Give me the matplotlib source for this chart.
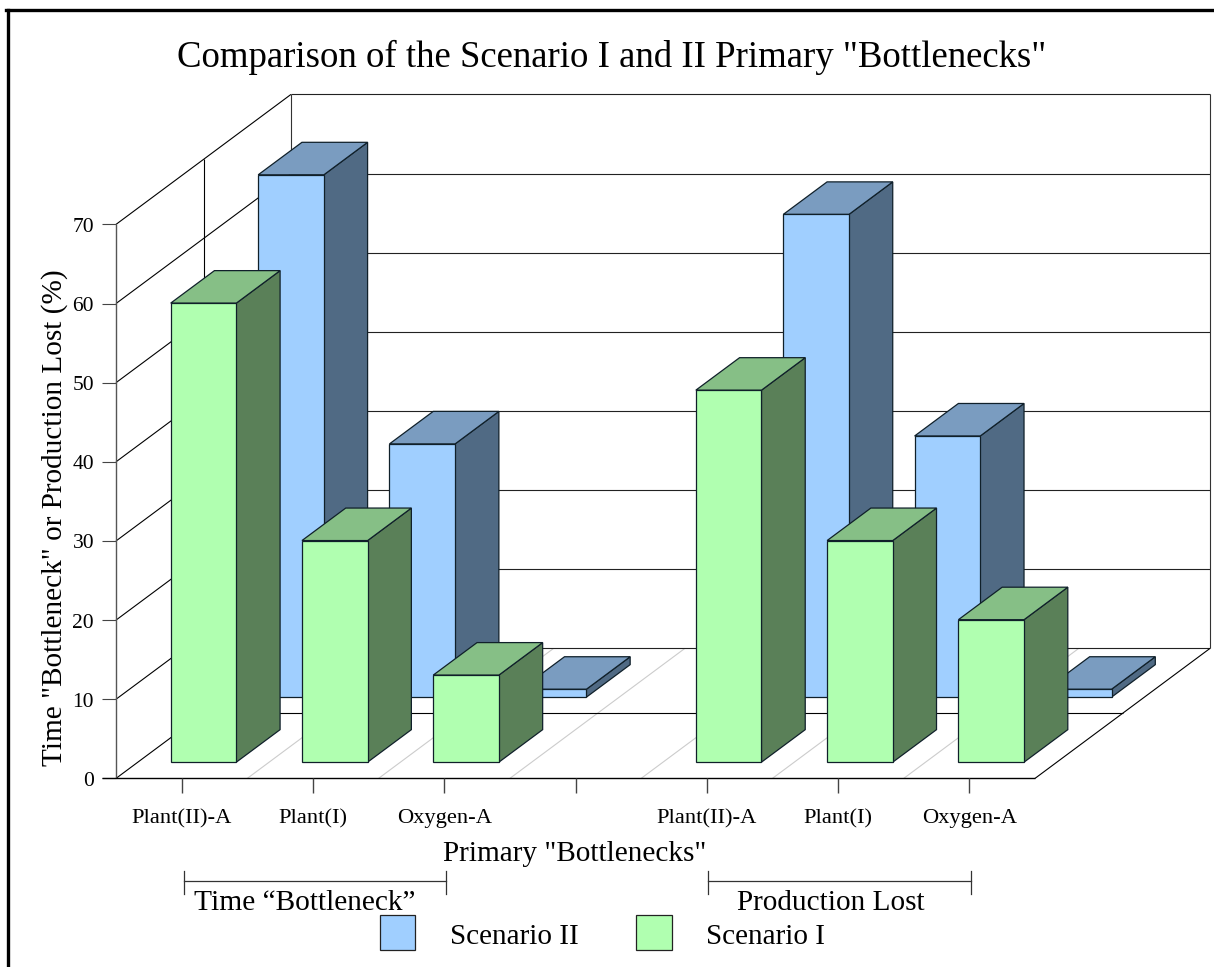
#!/usr/bin/env python3
"""Pseudo-3D bar chart: Scenario I vs II primary bottlenecks."""

import matplotlib
matplotlib.use("Agg")
import matplotlib.pyplot as plt
from matplotlib.patches import Polygon, Rectangle

# ── Data ──────────────────────────────────────────────────────────────────
categories = ["Plant(II)-A", "Plant(I)", "Oxygen-A", "", "Plant(II)-A", "Plant(I)", "Oxygen-A"]
scenario_1 = [58, 28, 11, None, 47, 28, 18]
scenario_2 = [66, 32, 1, None, 61, 33, 1]
y_ticks = [0, 10, 20, 30, 40, 50, 60, 70]

# ── Layout, in pixels of the 1214x967 figure ──────────────────────────────
W, H = 1214, 967
LEFT, BASE = 116, 778.4     # front corner of the floor
CAT_PX = 919 / 7            # width of one category
VAL_PX = 554 / 70           # height of one percent
DEPTH_X, DEPTH_Y = 175 / CAT_PX, 130 / VAL_PX   # floor depth in data units

plt.rcParams["font.family"] = ["Liberation Serif", "DejaVu Serif"]

fig = plt.figure(figsize=(W / 100, H / 100), dpi=100)
ax = fig.add_axes([0, 0, 1, 1])
ax.set_xlim(-LEFT / CAT_PX, (W - LEFT) / CAT_PX)
ax.set_ylim((BASE - H) / VAL_PX, BASE / VAL_PX)
ax.axis("off")


def proj(x, depth, val):
    return x + depth * DEPTH_X, val + depth * DEPTH_Y


def line(p, q, color="black", lw=0.8, z=2):
    ax.plot([p[0], q[0]], [p[1], q[1]], color=color, lw=lw, zorder=z,
            solid_capstyle="butt")


def px_text(x, y, s, size, **kw):
    kw.setdefault("ha", "center")
    kw.setdefault("va", "center")
    fig.text(x / W, 1 - y / H, s, fontsize=size, color="black", **kw)


def px_line(xs, ys, color="#333333", lw=0.9):
    fig.add_artist(plt.Line2D([x / W for x in xs], [1 - y / H for y in ys],
                              color=color, lw=lw))


# ── Walls and floor ───────────────────────────────────────────────────────
n = len(categories)
for i in range(1, n):
    line(proj(i, 0, 0), proj(i, 1, 0), color="#cccccc")
for v in y_ticks:
    line(proj(0, 0, v), proj(0, 1, v))
    line(proj(0, 1, v), proj(n, 1, v), color="#222222")
    line(proj(-14 / CAT_PX, 0, v), proj(0, 0, v), color="#444444")
line(proj(0, 0, 0), proj(0, 0, 70), color="#555555", lw=1.0)
line(proj(0, 1, 0), proj(0, 1, 70), color="#333333")
line(proj(n, 1, 0), proj(n, 1, 70), color="#333333")
line(proj(0, 0.5, 0), proj(0, 0.5, 70))
line(proj(0, 0.5, 0), proj(n, 0.5, 0))
line(proj(-14 / CAT_PX, 0, 0), proj(n, 0, 0), lw=1.0)
line(proj(n, 0, 0), proj(n, 1, 0))

for v in y_ticks:
    ax.text(-22 / CAT_PX, v - 3 / VAL_PX, str(v), fontsize=15.5, ha="right", va="center")
for i, name in enumerate(categories):
    c = i + 0.5
    line((c, 0), (c, -15 / VAL_PX), color="#444444", lw=1.0)
    ax.text(c, -40 / VAL_PX, name, fontsize=16.2, ha="center", va="center")


# ── Bars ──────────────────────────────────────────────────────────────────
def bar(i, d0, d1, val, front, top, side, z):
    x0, x1 = i + 0.25, i + 0.75
    quads = [
        ([(x1, d0, 0), (x1, d1, 0), (x1, d1, val), (x1, d0, val)], side),
        ([(x0, d0, val), (x1, d0, val), (x1, d1, val), (x0, d1, val)], top),
        ([(x0, d0, 0), (x1, d0, 0), (x1, d0, val), (x0, d0, val)], front),
    ]
    for corners, color in quads:
        ax.add_patch(Polygon([proj(*c) for c in corners], closed=True, facecolor=color,
                             edgecolor="#10202a", lw=0.9, zorder=z, joinstyle="miter"))


BLUE = ("#a0cfff", "#7a9cc0", "#506a84")
GREEN = ("#b0ffb0", "#86bf86", "#5a8058")
for i, val in enumerate(scenario_2):
    if val is not None:
        bar(i, 0.625, 0.875, val, *BLUE, z=3)
for i, val in enumerate(scenario_1):
    if val is not None:
        bar(i, 0.125, 0.375, val, *GREEN, z=4)

# ── Frame, titles ─────────────────────────────────────────────────────────
px_line([7.5, 7.5], [H, 9.5], color="black", lw=2.4)
px_line([6, W], [9.5, 9.5], color="black", lw=2.4)

px_text(612, 57, 'Comparison of the Scenario I and II Primary "Bottlenecks"', 26.5)
px_text(55, 518, 'Time "Bottleneck" or Production Lost (%)', 21.1, rotation=90)
px_text(575, 854, 'Primary "Bottlenecks"', 21.1)

# ── Group brackets ────────────────────────────────────────────────────────
for x0, x1 in [(184, 446), (708, 970.5)]:
    px_line([x0, x1], [881, 881])
    px_line([x0, x0], [871, 894])
    px_line([x1, x1], [871, 894])
px_text(304.5, 903, "Time “Bottleneck”", 21.2)
px_text(831, 903, "Production Lost", 21.1)

# ── Legend ────────────────────────────────────────────────────────────────
for x, label, text_x, color in [(379.5, "Scenario II", 450, BLUE[0]), (636, "Scenario I", 706, GREEN[0])]:
    fig.add_artist(Rectangle((x / W, 1 - 949.5 / H), 35.5 / W, 35 / H, facecolor=color,
                             edgecolor="#222222", lw=0.9, transform=fig.transFigure))
    px_text(text_x, 937, label, 21, ha="left")

fig.savefig("out.png", dpi=100)
